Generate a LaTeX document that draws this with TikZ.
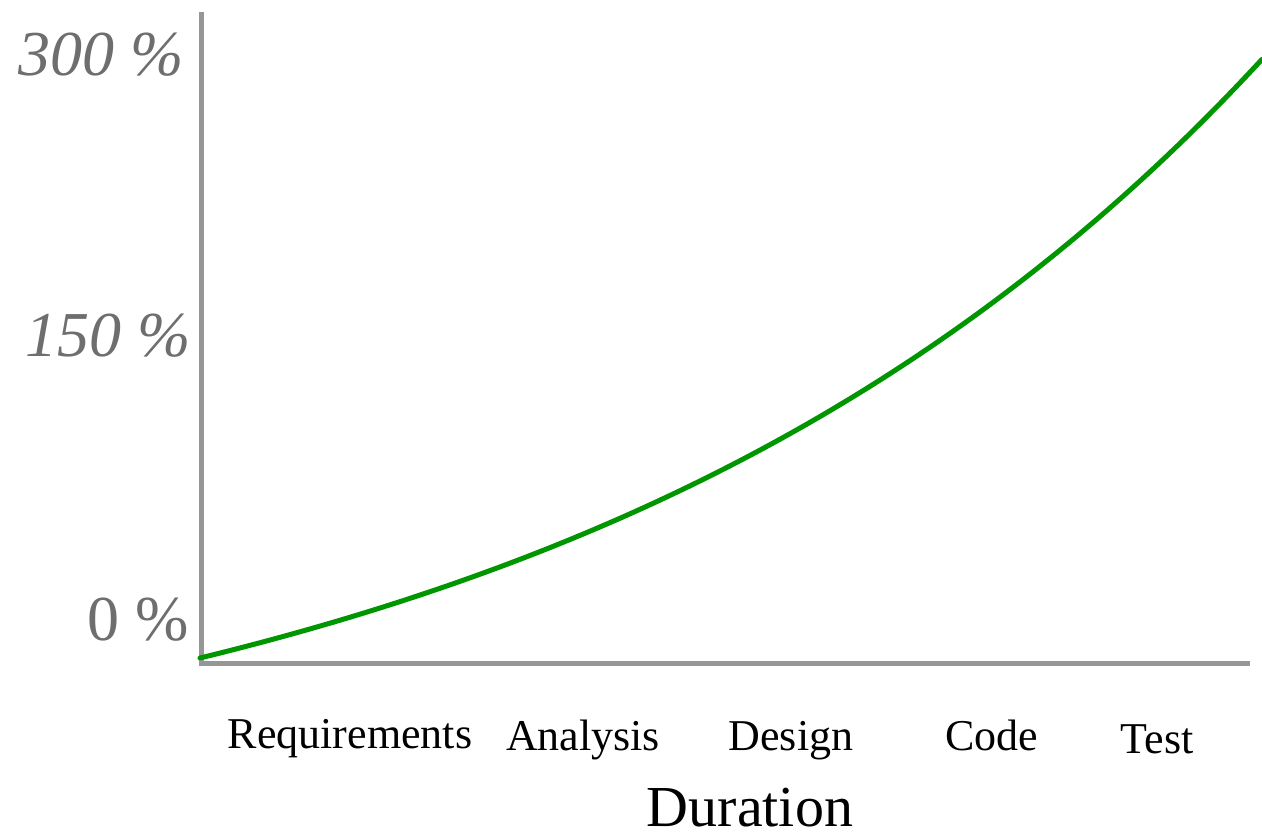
\documentclass[tikz,border=0pt]{standalone}
\usepackage{fontspec}
\setmainfont{Liberation Serif}
\definecolor{axisgray}{RGB}{150,150,150}
\definecolor{labelgray}{RGB}{110,110,110}
\definecolor{curvegreen}{RGB}{0,150,0}
\tikzset{
  phase/.style={text=black,font=\fontsize{44}{50}\selectfont,inner sep=0pt,anchor=base},
  pct/.style={text=labelgray,font=\fontsize{64}{70}\selectfont\itshape,inner sep=0pt},
}
\begin{document}
\begin{tikzpicture}[x=1pt,y=1pt,yscale=-1,xscale=1]
\useasboundingbox (0,0) rectangle (1262,838);

% axes
\draw [color=axisgray,line width=5] (201,12) -- (201,663) -- (1250,663);
% cost curve
\draw [color=curvegreen,line width=5,line cap=round] plot [domain=200:1262,samples=90] (\x,{658-174*(exp(0.0014*(\x-200))-1)});

\node [pct] (p300) at (101,55) {300 \%};
\node [pct] (p150) at (108,336) {150 \%};
\node [pct,font=\fontsize{64}{70}\selectfont] (p0) at (138,620) {0 \%};

\node [phase] (req) at (350,748) {Requirements};
\node [phase] (ana) at (583,750) {Analysis};
\node [phase] (des) at (791,750) {Design};
\node [phase] (cod) at (992,750) {Code};
\node [phase] (tst) at (1157,753) {Test};
\node [phase,font=\fontsize{58}{64}\selectfont] (dur) at (750,826) {Duration};

\end{tikzpicture}
\end{document}
